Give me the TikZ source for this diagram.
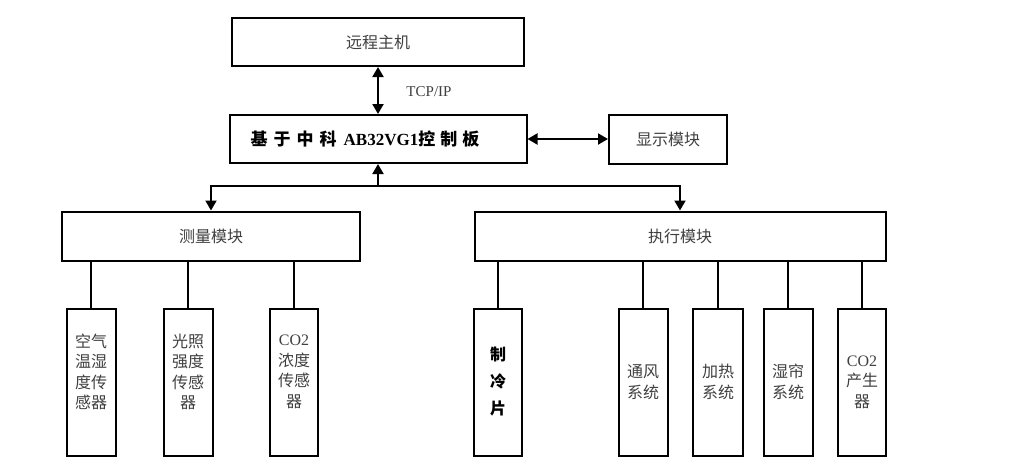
\documentclass[tikz,border=0pt]{standalone}
\usepackage{fontspec}
\setmainfont{Noto Sans CJK SC}
\newfontfamily\lat{Liberation Serif}
\usetikzlibrary{arrows.meta}
\definecolor{txtgray}{HTML}{404040}
\tikzset{
  box/.style={draw=black, line width=2pt, inner sep=0pt, fill=white},
  txt/.style={text=txtgray, font=\fontsize{16}{20.5}\selectfont, align=center, inner sep=0pt},
  btxt/.style={text=black, font=\fontsize{16}{27}\selectfont\bfseries, align=center, inner sep=0pt},
  conn/.style={line width=2pt, draw=black},
  arr/.style={conn, -{Triangle[length=10pt,width=11pt]}},
  darr/.style={conn, {Triangle[length=10pt,width=11pt]}-{Triangle[length=10pt,width=11pt]}}
}
\begin{document}
\begin{tikzpicture}[x=1pt,y=-1pt]
\useasboundingbox[fill=white] (0,0) rectangle (1009,471);
% main boxes
\node[box, minimum width=292pt, minimum height=48pt] (remote) at (378,42) {};
\node[txt] (remotet) at (remote.center) {远程主机};
\node[box, minimum width=297pt, minimum height=48pt] (board) at (378,139) {};
\node[btxt, font=\fontsize{17}{20}\selectfont\bfseries] (boardt) at ([xshift=-13pt]board.center) {基\hspace{6pt}于\hspace{6pt}中\hspace{6pt}科\hspace{7pt}{\lat AB32VG1}控\hspace{5pt}制\hspace{5pt}板};
\node[box, minimum width=118pt, minimum height=49pt] (disp) at (668,139) {};
\node[txt] (dispt) at (disp.center) {显示模块};
\node[box, minimum width=298pt, minimum height=49pt] (meas) at (211,236) {};
\node[txt] (meast) at (meas.center) {测量模块};
\node[box, minimum width=411pt, minimum height=49pt] (exec) at (680,236) {};
\node[txt] (exect) at (exec.center) {执行模块};
% sensor boxes
\node[box, minimum width=49pt, minimum height=147pt] (s1) at (91,382) {};
\node[box, minimum width=49pt, minimum height=147pt] (s2) at (188,382) {};
\node[box, minimum width=48pt, minimum height=147pt] (s3) at (294,382) {};
\node[txt] (s1t) at ([yshift=10pt]s1.center) {空气\\温湿\\度传\\感器};
\node[txt] (s2t) at ([yshift=10pt]s2.center) {光照\\强度\\传感\\器};
\node[txt] (s3t) at ([yshift=10pt]s3.center) {{\lat CO2}\\浓度\\传感\\器};
% actuator boxes
\node[box, minimum width=48pt, minimum height=147pt] (a1) at (498,382) {};
\node[box, minimum width=49pt, minimum height=147pt] (a2) at (643,382) {};
\node[box, minimum width=50pt, minimum height=147pt] (a3) at (718,382) {};
\node[box, minimum width=49pt, minimum height=147pt] (a4) at (788,382) {};
\node[box, minimum width=48pt, minimum height=147pt] (a5) at (862,382) {};
\node[btxt] (a1t) at (a1.center) {制\\冷\\片};
\node[txt] (a2t) at (a2.center) {通风\\系统};
\node[txt] (a3t) at (a3.center) {加热\\系统};
\node[txt] (a4t) at (a4.center) {湿帘\\系统};
\node[txt] (a5t) at (a5.center) {{\lat CO2}\\产生\\器};
% connectors
\draw[darr] (remote.south) -- (remote.south |- board.north);
\node[txt, font=\lat\fontsize{15}{18}\selectfont] (tcp) at (429,92) {TCP/IP};
\draw[darr] (board.east) -- (disp.west);
\coordinate (j) at (board.south |- 0,186);
\draw[arr] (j) -- (board.south);
\draw[arr] (j) -| (meas.north);
\draw[arr] (j) -| (exec.north);
\draw[conn] (s1.north) -- (s1.north |- meas.south);
\draw[conn] (s2.north) -- (s2.north |- meas.south);
\draw[conn] (s3.north) -- (s3.north |- meas.south);
\draw[conn] (a1.north) -- (a1.north |- exec.south);
\draw[conn] (a2.north) -- (a2.north |- exec.south);
\draw[conn] (a3.north) -- (a3.north |- exec.south);
\draw[conn] (a4.north) -- (a4.north |- exec.south);
\draw[conn] (a5.north) -- (a5.north |- exec.south);
\end{tikzpicture}
\end{document}
